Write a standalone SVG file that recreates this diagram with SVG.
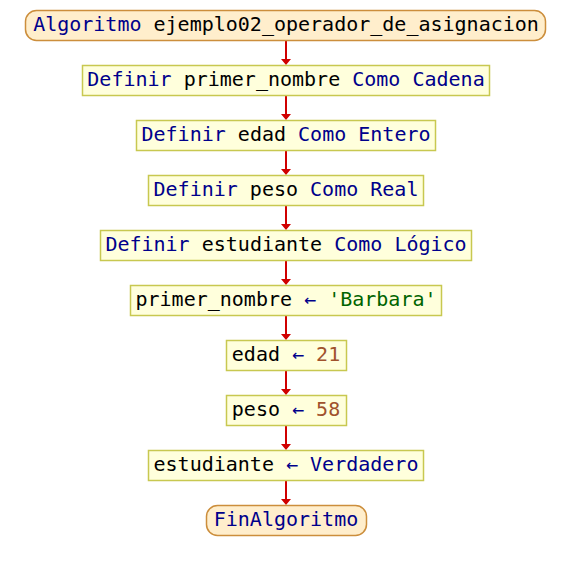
<svg xmlns="http://www.w3.org/2000/svg" width="572" height="570" viewBox="0 0 572 570">
  <defs>
    <style>
      text { font-family: "DejaVu Sans Mono", "Liberation Mono", monospace; font-size: 20px; text-anchor: middle; fill: #000000; }
      .kw { fill: #00008b; }
      .str { fill: #006400; }
      .num { fill: #a0522d; }
      .op { fill: #00008b; }
      .box { fill: #ffffdc; stroke: #c8c850; stroke-width: 1.5; }
      .term { fill: #ffeecc; stroke: #cc8e3c; stroke-width: 1.5; }
      .flow { stroke: #d00000; stroke-width: 2; fill: none; }
      .head { fill: #d00000; }
    </style>
  </defs>
  <rect width="572" height="570" fill="#ffffff"/>

  <g id="connectors">
    <path class="flow" d="M286 40V60 M286 95V115 M286 150V170 M286 205V225 M286 260V280 M286 315V335 M286 370V390 M286 425V445 M286 480V500"/>
    <path class="head" d="M281 59L291 59L286 65Z M281 114L291 114L286 120Z M281 169L291 169L286 175Z M281 224L291 224L286 230Z M281 279L291 279L286 285Z M281 334L291 334L286 340Z M281 389L291 389L286 395Z M281 444L291 444L286 450Z M281 499L291 499L286 505Z"/>
  </g>

  <g id="inicio">
    <rect class="term" x="25.5" y="10.5" width="520" height="30" rx="11"/>
    <text x="286" y="31"><tspan class="kw">Algoritmo</tspan> ejemplo02_operador_de_asignacion</text>
  </g>

  <g id="def-primer-nombre">
    <rect class="box" x="82.5" y="65.5" width="407" height="30"/>
    <text x="286" y="86"><tspan class="kw">Definir</tspan> primer_nombre <tspan class="kw">Como Cadena</tspan></text>
  </g>

  <g id="def-edad">
    <rect class="box" x="136.5" y="120.5" width="299" height="30"/>
    <text x="286" y="141"><tspan class="kw">Definir</tspan> edad <tspan class="kw">Como Entero</tspan></text>
  </g>

  <g id="def-peso">
    <rect class="box" x="148.5" y="175.5" width="275" height="30"/>
    <text x="286" y="196"><tspan class="kw">Definir</tspan> peso <tspan class="kw">Como Real</tspan></text>
  </g>

  <g id="def-estudiante">
    <rect class="box" x="100.5" y="230.5" width="371" height="30"/>
    <text x="286" y="251"><tspan class="kw">Definir</tspan> estudiante <tspan class="kw">Como Lógico</tspan></text>
  </g>

  <g id="asig-primer-nombre">
    <rect class="box" x="130.5" y="285.5" width="311" height="30"/>
    <text x="286" y="306">primer_nombre <tspan class="op">←</tspan> <tspan class="str">'Barbara'</tspan></text>
  </g>

  <g id="asig-edad">
    <rect class="box" x="226.5" y="340.5" width="120" height="30"/>
    <text x="286" y="361">edad <tspan class="op">←</tspan> <tspan class="num">21</tspan></text>
  </g>

  <g id="asig-peso">
    <rect class="box" x="226.5" y="395.5" width="120" height="30"/>
    <text x="286" y="416">peso <tspan class="op">←</tspan> <tspan class="num">58</tspan></text>
  </g>

  <g id="asig-estudiante">
    <rect class="box" x="148.5" y="450.5" width="275" height="30"/>
    <text x="286" y="471">estudiante <tspan class="op">←</tspan> <tspan class="kw">Verdadero</tspan></text>
  </g>

  <g id="fin">
    <rect class="term" x="206.5" y="505.5" width="160" height="30" rx="11"/>
    <text x="286" y="526"><tspan class="kw">FinAlgoritmo</tspan></text>
  </g>
</svg>
